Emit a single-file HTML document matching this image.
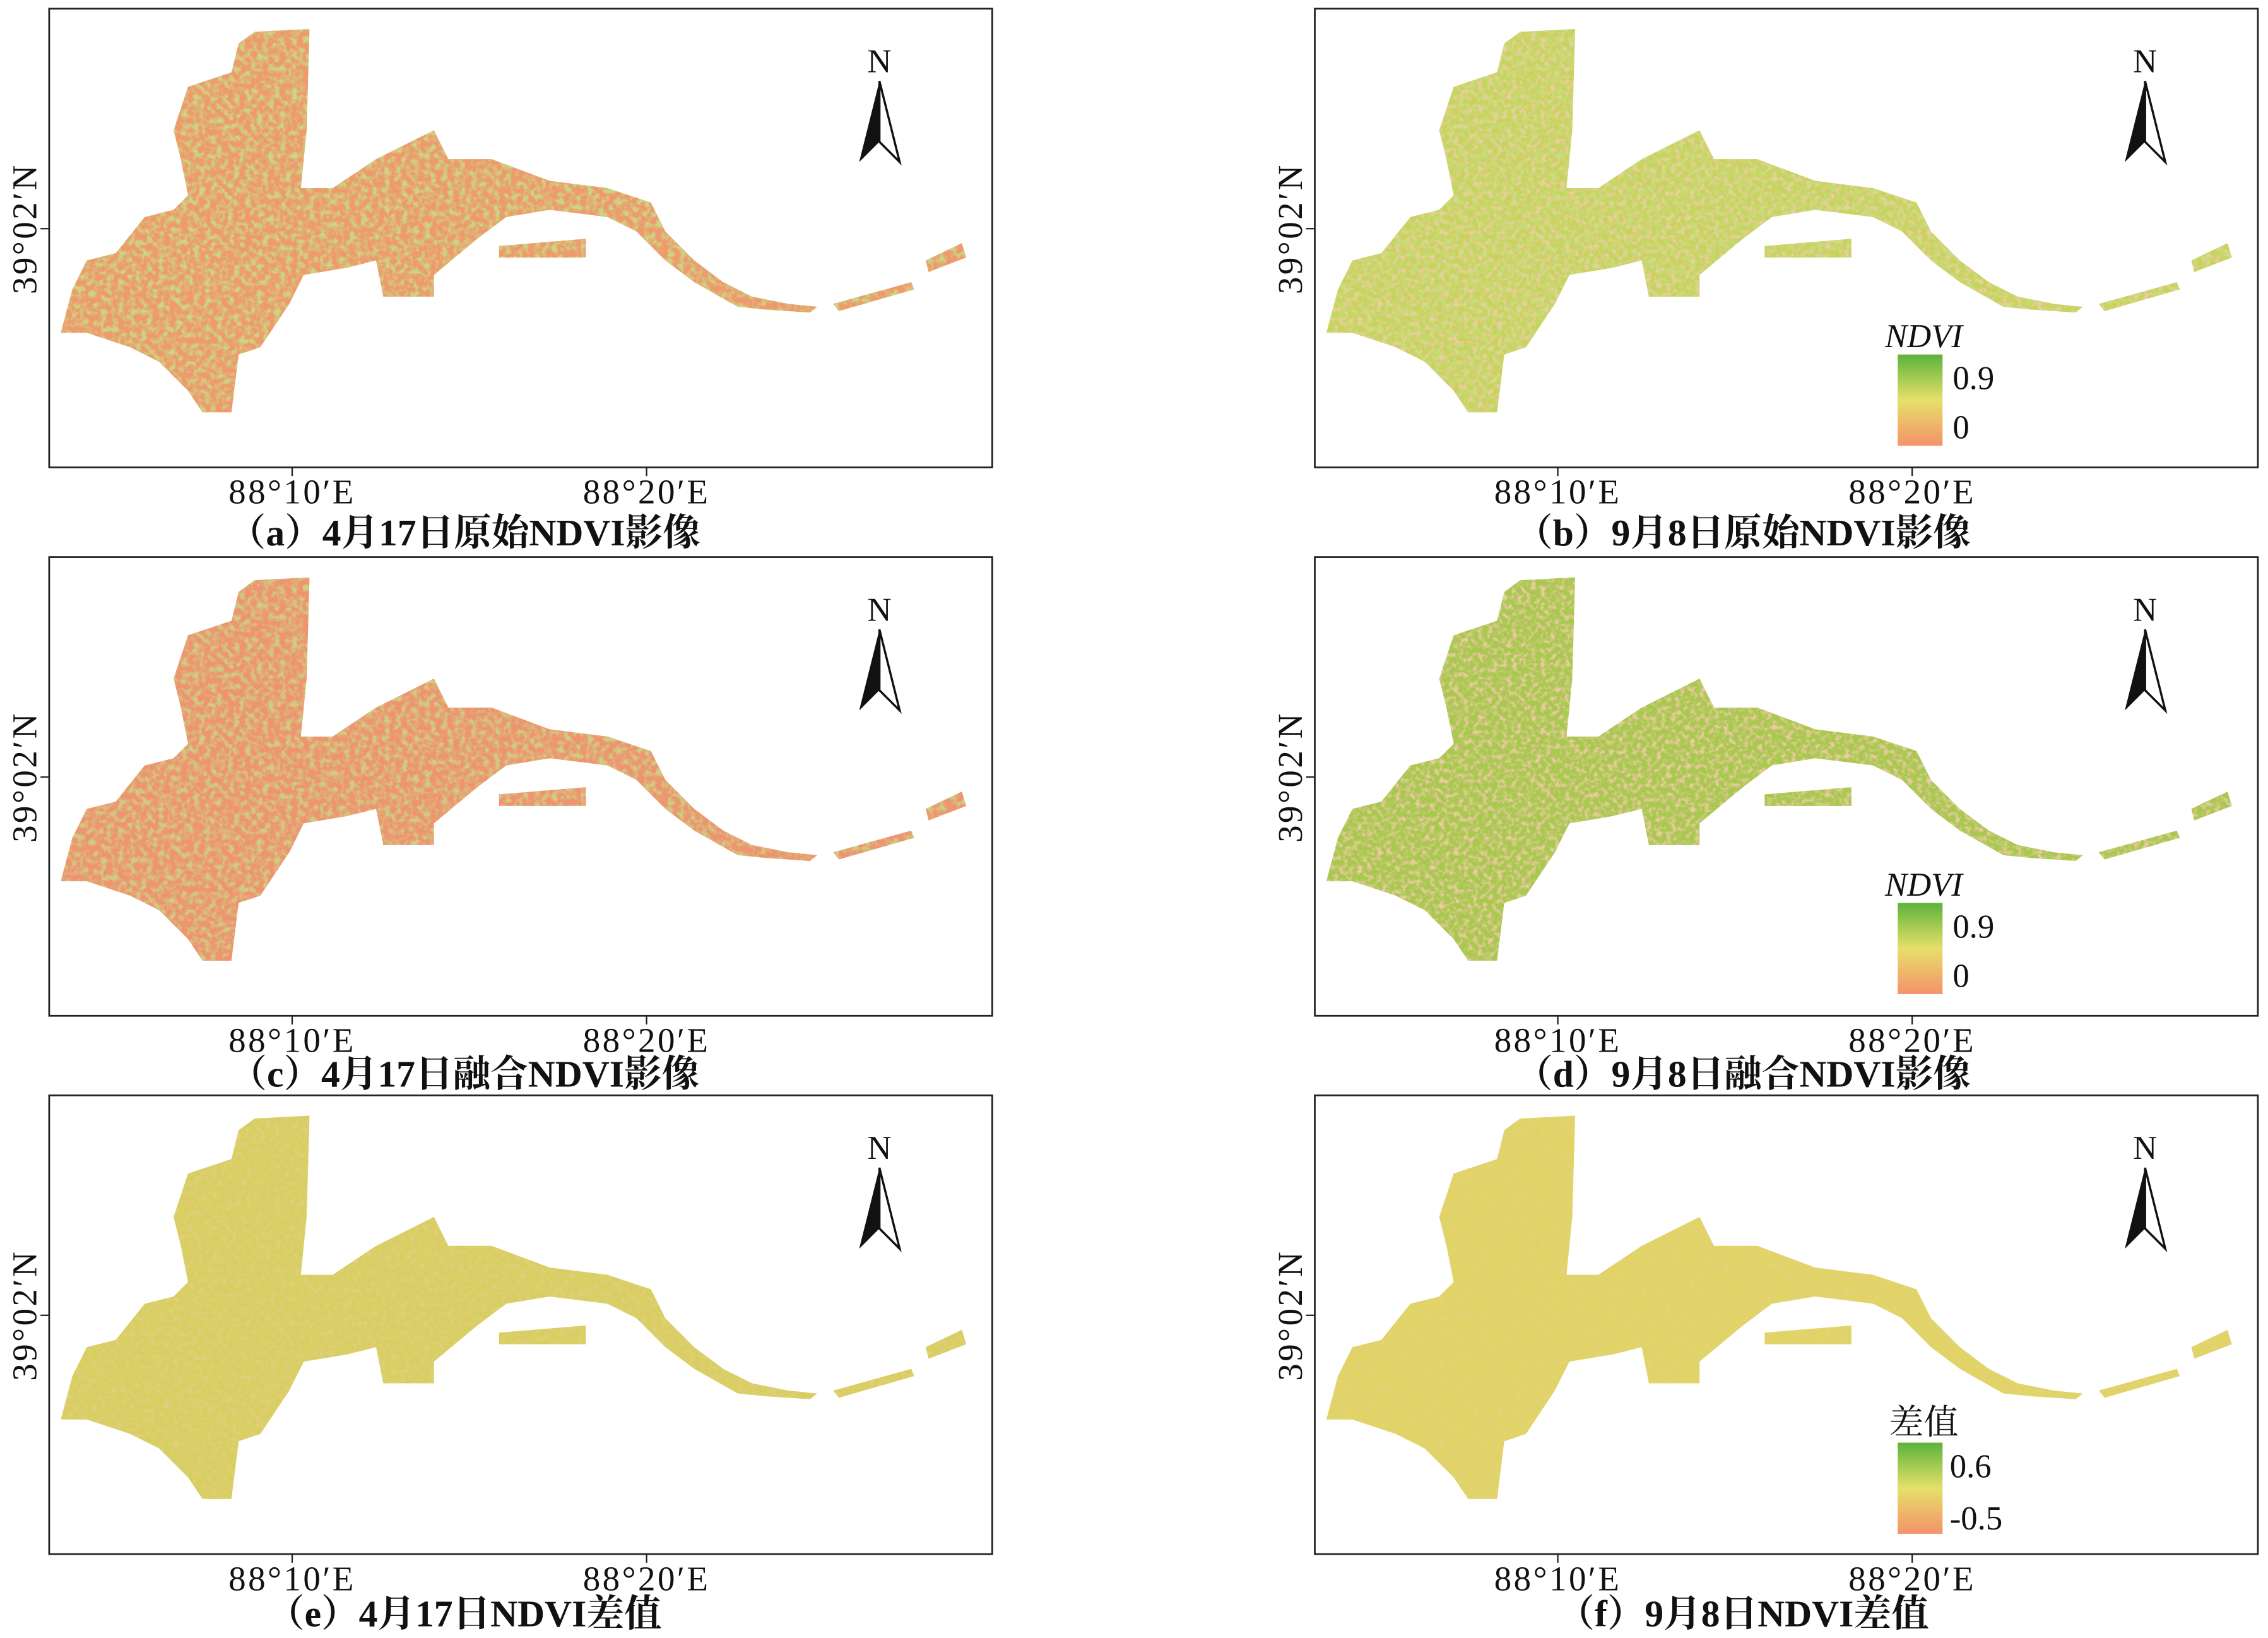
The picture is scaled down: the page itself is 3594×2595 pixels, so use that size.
<!DOCTYPE html>
<html><head><meta charset="utf-8"><style>
html,body{margin:0;padding:0;background:#fff;}
svg{display:block;}
text{font-family:"Liberation Serif","Noto Serif CJK SC",serif;fill:#111;}
</style></head><body>
<svg width="3594" height="2595" viewBox="0 0 1568 1132" preserveAspectRatio="none" xmlns="http://www.w3.org/2000/svg">
<defs>
<clipPath id="cp"><path d="M142,16 L180,14 L178,84 L174,124 L196,124 L226,104 L256,89 L266,84 L276,104 L306,104 L346,119 L386,124 L416,134 L426,154 L446,174 L466,189 L486,199 L511,204 L531,206 L526,210 L496,208 L476,206 L446,189 L426,174 L406,154 L386,144 L346,139 L316,144 L296,159 L266,184 L266,199 L231,199 L226,174 L206,179 L176,184 L166,204 L146,234 L131,239 L126,279 L106,279 L96,264 L76,244 L56,234 L26,224 L8,224 L16,194 L26,174 L46,169 L66,144 L86,139 L96,129 L91,104 L86,84 L96,54 L126,44 L131,24 Z M311,164 L371,159 L371,172 L311,172 Z M542,204 L596,189 L598,194 L546,209 Z M606,174 L631,162 L634,172 L608,182 Z"/></clipPath>
<filter id="nz" x="0" y="0" width="100%" height="100%">
<feTurbulence type="fractalNoise" baseFrequency="0.25" numOctaves="2" seed="3"/>
<feColorMatrix type="matrix" values="0 0 0 0 0.55  0 0 0 0 0.78  0 0 0 0 0.25  3 0 0 0 -1.2"/>
</filter>
<filter id="nz2" x="0" y="0" width="100%" height="100%">
<feTurbulence type="fractalNoise" baseFrequency="0.3" numOctaves="2" seed="7"/>
<feColorMatrix type="matrix" values="0 0 0 0 0.94  0 0 0 0 0.6  0 0 0 0 0.42  3 0 0 0 -1.3"/>
</filter>
<linearGradient id="lg" x1="0" y1="0" x2="0" y2="1">
<stop offset="0" stop-color="#5cb33a"/><stop offset="0.5" stop-color="#e6e06a"/><stop offset="1" stop-color="#f4926a"/>
</linearGradient>
<g id="north">
<text x="574" y="44" font-size="23" text-anchor="middle">N</text>
<path d="M574,50 L560,106 L574,92 Z" fill="#111"/>
<path d="M574,50 L588,106 L574,92 Z" fill="#fff" stroke="#111" stroke-width="1.5"/>
</g>
<g id="axes">
<rect x="0" y="0" width="652" height="317" fill="none" stroke="#222" stroke-width="1.2"/>
<line x1="168" y1="317" x2="168" y2="323" stroke="#222"/>
<line x1="413" y1="317" x2="413" y2="323" stroke="#222"/>
<line x1="0" y1="152" x2="-6" y2="152" stroke="#222"/>
<text x="168" y="342" font-size="24" letter-spacing="1.5" text-anchor="middle">88°10′E</text>
<text x="413" y="342" font-size="24" letter-spacing="1.5" text-anchor="middle">88°20′E</text>
<text transform="translate(-9,152) rotate(-90)" font-size="24" letter-spacing="1.5" text-anchor="middle">39°02′N</text>
</g>
</defs>

<g transform="translate(34,6)"><use href="#axes"/><use href="#north"/>
<g clip-path="url(#cp)"><rect width="652" height="317" fill="#ee9a6c"/><rect width="652" height="317" filter="url(#nz)" opacity="0.8"/></g></g>
<g transform="translate(909,6)"><use href="#axes"/><use href="#north"/>
<g clip-path="url(#cp)"><rect width="652" height="317" fill="#c6d35c"/><rect width="652" height="317" filter="url(#nz2)" opacity="0.9"/><rect width="652" height="317" filter="url(#nz)" opacity="0.5"/></g>
<text x="421" y="234" font-size="23" font-style="italic" text-anchor="middle">NDVI</text>
<rect x="403" y="239" width="31" height="63" fill="url(#lg)"/>
<text x="441" y="263" font-size="23">0.9</text><text x="441" y="297" font-size="23">0</text></g>
<g transform="translate(34,385)"><use href="#axes"/><use href="#north"/>
<g clip-path="url(#cp)"><rect width="652" height="317" fill="#ee9470"/><rect width="652" height="317" filter="url(#nz)" opacity="0.7"/></g></g>
<g transform="translate(909,385)"><use href="#axes"/><use href="#north"/>
<g clip-path="url(#cp)"><rect width="652" height="317" fill="#a8c850"/><rect width="652" height="317" filter="url(#nz2)" opacity="0.9"/></g>
<text x="421" y="234" font-size="23" font-style="italic" text-anchor="middle">NDVI</text>
<rect x="403" y="239" width="31" height="63" fill="url(#lg)"/>
<text x="441" y="263" font-size="23">0.9</text><text x="441" y="297" font-size="23">0</text></g>
<g transform="translate(34,757)"><use href="#axes"/><use href="#north"/>
<g clip-path="url(#cp)"><rect width="652" height="317" fill="#d8cf62"/><rect width="652" height="317" filter="url(#nz2)" opacity="0.35"/></g></g>
<g transform="translate(909,757)"><use href="#axes"/><use href="#north"/>
<g clip-path="url(#cp)"><rect width="652" height="317" fill="#e0d466"/><rect width="652" height="317" filter="url(#nz2)" opacity="0.25"/></g>
<text x="421" y="234" font-size="24" text-anchor="middle">差值</text>
<rect x="403" y="240" width="31" height="63" fill="url(#lg)"/>
<text x="439" y="264" font-size="23">0.6</text><text x="439" y="300" font-size="23">-0.5</text></g>

<g font-size="26" text-anchor="middle" font-weight="bold">
<text x="321" y="377">（a）4月17日原始NDVI影像</text>
<text x="1205" y="377">（b）9月8日原始NDVI影像</text>
<text x="321" y="751">（c）4月17日融合NDVI影像</text>
<text x="1205" y="751">（d）9月8日融合NDVI影像</text>
<text x="321" y="1124">（e）4月17日NDVI差值</text>
<text x="1205" y="1124">（f）9月8日NDVI差值</text>
</g>
</svg>
</body></html>
